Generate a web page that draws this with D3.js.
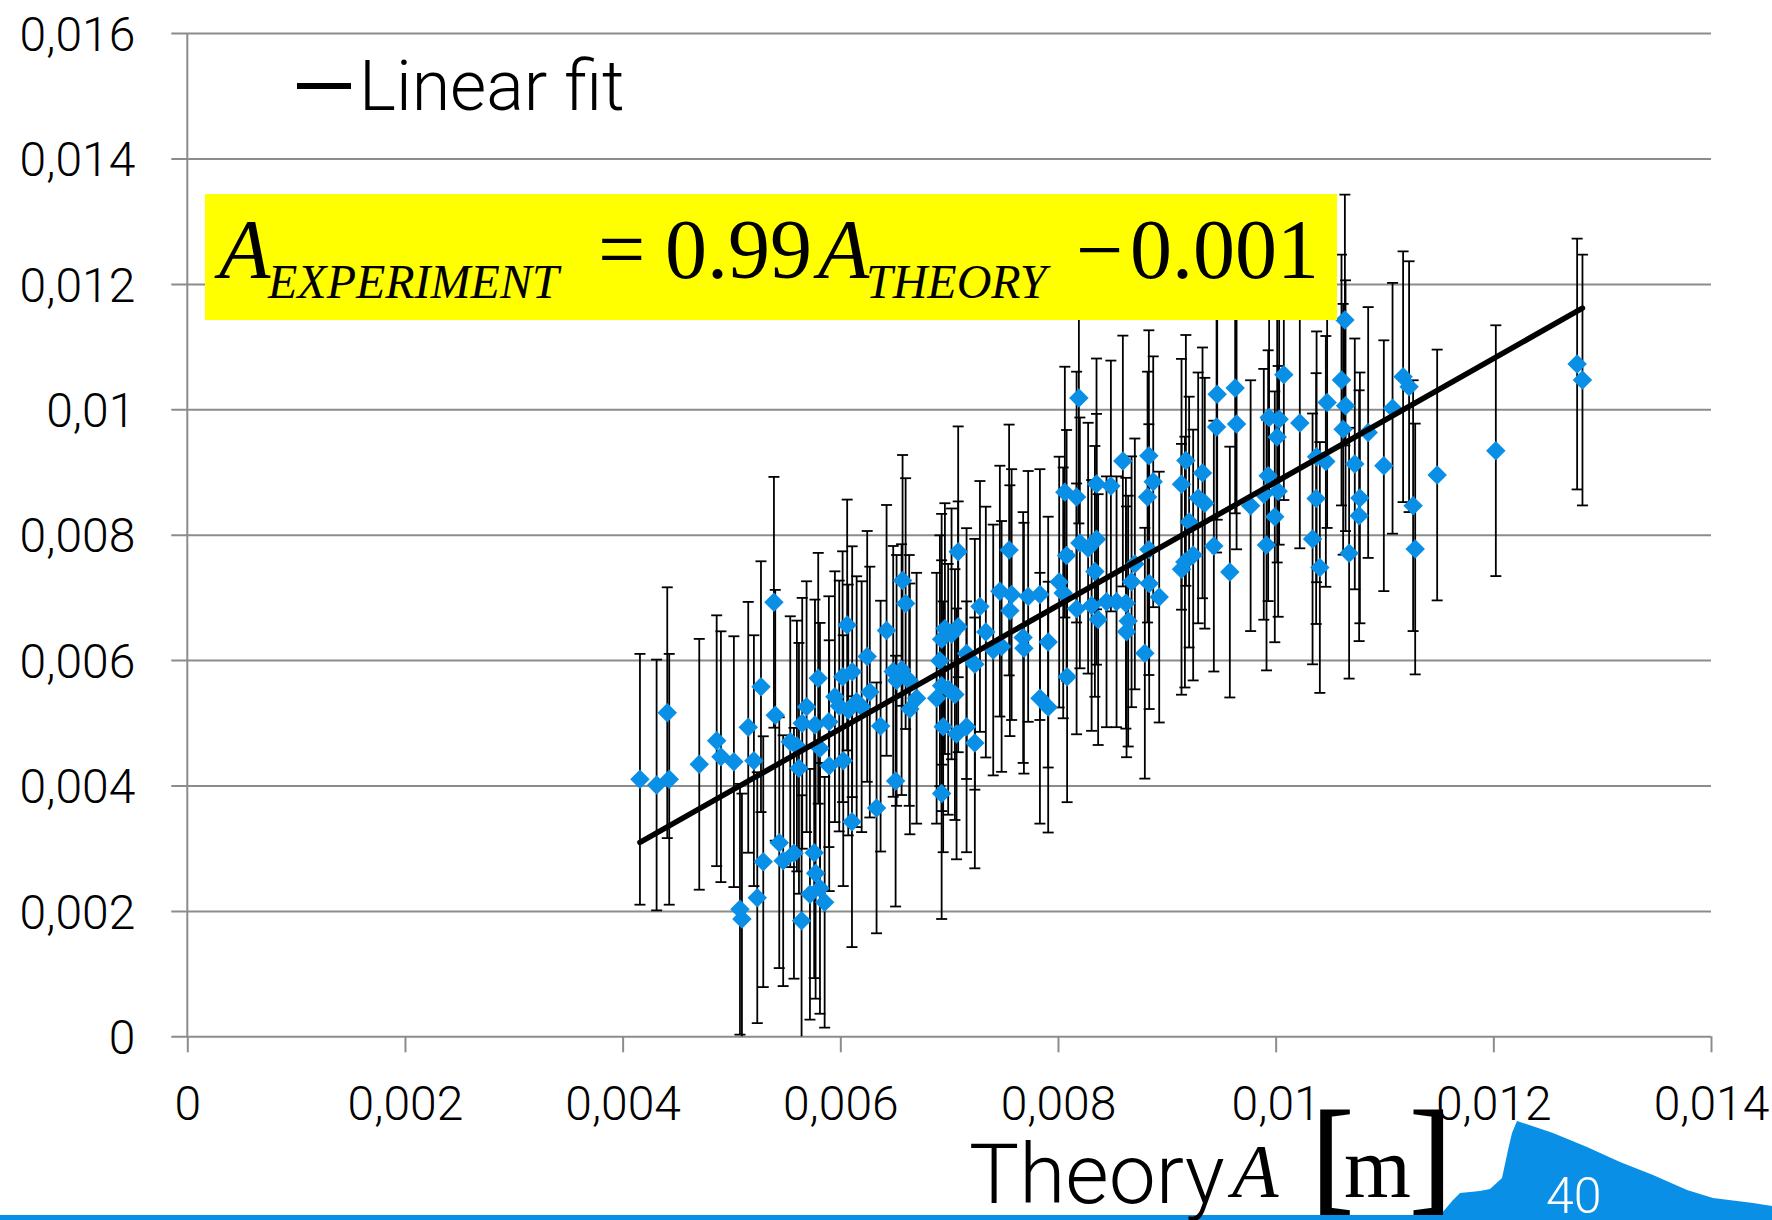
<!DOCTYPE html>
<html>
<head>
<meta charset="utf-8">
<script src="https://cdn.jsdelivr.net/npm/d3@7"></script>
<style>
  body { margin: 0; background: #fff; }
  svg { display: block; }
</style>
</head>
<body>
<div id="chart"></div>
<script>
// Theory amplitude A (m)
const theoryA = [
  0.004159, 0.004312, 0.004428, 0.004410, 0.004704, 0.004864, 0.004903, 0.005022, 0.005154, 0.005206,
  0.005271, 0.005390, 0.005402, 0.005078, 0.005096, 0.005237, 0.005292, 0.005439, 0.005475, 0.005574,
  0.005540, 0.005601, 0.005620, 0.005644, 0.005690, 0.005650, 0.005767, 0.005797, 0.005895, 0.005813,
  0.005898, 0.006027, 0.005760, 0.005773, 0.005813, 0.005721, 0.005856, 0.006107, 0.006063, 0.005950,
  0.006021, 0.006109, 0.005990, 0.006073, 0.006150, 0.006196, 0.006247, 0.006271, 0.006370, 0.006425,
  0.006333, 0.006508, 0.006572, 0.006600, 0.006486, 0.006517, 0.006563, 0.006633, 0.006701, 0.006639,
  0.006915, 0.006961, 0.006931, 0.007022, 0.007083, 0.007083, 0.006931, 0.006885, 0.006991, 0.007053,
  0.006945, 0.007068, 0.007160, 0.007236, 0.006931, 0.007160, 0.007236, 0.007283, 0.007337, 0.007405,
  0.007482, 0.007466, 0.007551, 0.007574, 0.007558, 0.007680, 0.007687, 0.007726, 0.007834, 0.007910,
  0.007834, 0.007910, 0.008011, 0.008048, 0.008079, 0.008084, 0.008171, 0.008063, 0.008171, 0.008192,
  0.008201, 0.008277, 0.008354, 0.008339, 0.008354, 0.008309, 0.008369, 0.008446, 0.008486, 0.008596,
  0.008835, 0.008875, 0.008823, 0.008706, 0.008676, 0.008538, 0.008624, 0.008645, 0.008630, 0.008798,
  0.008835, 0.008838, 0.008930, 0.009175, 0.009135, 0.009328, 0.009288, 0.009349, 0.009205, 0.009242,
  0.009166, 0.009135, 0.009463, 0.009457, 0.009432, 0.009628, 0.009641, 0.009579, 0.009770, 0.009940,
  0.010032, 0.010014, 0.010075, 0.009931, 0.009891, 0.010023, 0.009992, 0.009916, 0.010222, 0.010376,
  0.010461, 0.010372, 0.010339, 0.010406, 0.010473, 0.010636, 0.010605, 0.010642, 0.010620, 0.010727,
  0.010774, 0.010767, 0.010675, 0.010850, 0.010994, 0.011074, 0.011171, 0.011226, 0.011263, 0.011282,
  0.011484, 0.012023, 0.012770, 0.012819
];

// Experiment amplitude A (m), same order
const experimentA = [
  0.004099, 0.004008, 0.004099, 0.005161, 0.004338, 0.004714, 0.004459, 0.004380, 0.004928, 0.004396,
  0.005576, 0.006922, 0.005120, 0.002026, 0.001871, 0.002211, 0.002785, 0.003088, 0.002801, 0.002919,
  0.004699, 0.004630, 0.004274, 0.001844, 0.005257, 0.004992, 0.004965, 0.005710, 0.005018, 0.004593,
  0.004316, 0.004396, 0.002928, 0.002600, 0.002360, 0.002265, 0.002137, 0.003423, 0.006560, 0.005416,
  0.005735, 0.005815, 0.005268, 0.005204, 0.005337, 0.005257, 0.006059, 0.005490, 0.004947, 0.006474,
  0.003643, 0.004070, 0.007271, 0.006901, 0.005820, 0.005676, 0.005848, 0.005676, 0.005392, 0.005222,
  0.005990, 0.006502, 0.006332, 0.006418, 0.006531, 0.007727, 0.005592, 0.005392, 0.005534, 0.005450,
  0.004936, 0.004823, 0.004936, 0.004679, 0.003871, 0.006104, 0.005933, 0.006856, 0.006447, 0.006161,
  0.006218, 0.007100, 0.007756, 0.007045, 0.006788, 0.006360, 0.006190, 0.007016, 0.007045, 0.006287,
  0.005392, 0.005250, 0.007244, 0.007072, 0.007670, 0.005734, 0.006817, 0.008679, 0.008600, 0.010180,
  0.007869, 0.007785, 0.007927, 0.007415, 0.008810, 0.006872, 0.006646, 0.006930, 0.008777, 0.009175,
  0.009260, 0.008844, 0.008600, 0.007534, 0.007249, 0.006930, 0.006907, 0.006622, 0.006451, 0.006110,
  0.007762, 0.007220, 0.007005, 0.009185, 0.008804, 0.008986, 0.008587, 0.008502, 0.008201, 0.007676,
  0.007563, 0.007448, 0.010239, 0.009716, 0.007818, 0.010341, 0.009767, 0.007404, 0.008463, 0.009869,
  0.009841, 0.009557, 0.010553, 0.008941, 0.008644, 0.008691, 0.008285, 0.007836, 0.009783, 0.009242,
  0.009169, 0.008576, 0.007933, 0.007477, 0.010108, 0.011424, 0.010467, 0.010057, 0.009681, 0.009129,
  0.008587, 0.008303, 0.007705, 0.009630, 0.009100, 0.010016, 0.010520, 0.010361, 0.008463, 0.007772,
  0.008952, 0.009340, 0.010722, 0.010467
];

// every point carries the same +/- error
const errorHalf = 0.002;

// linear fit shown on the chart
const fitSlope = 0.984;
const fitIntercept = -0.001;

const xTicks = [0, 0.002, 0.004, 0.006, 0.008, 0.010, 0.012, 0.014];
const xTickLabels = ["0", "0,002", "0,004", "0,006", "0,008", "0,01", "0,012", "0,014"];
const yTicks = [0, 0.002, 0.004, 0.006, 0.008, 0.010, 0.012, 0.014, 0.016];
const yTickLabels = ["0", "0,002", "0,004", "0,006", "0,008", "0,01", "0,012", "0,014", "0,016"];

const W = 1772, H = 1220;
const plot = {left: 187.3, right: 1711, top: 33.1, bottom: 1036.3};
const grey = "#8c8c8c";
const blue = "#0a8fe6";
const sans = "Roboto, 'Open Sans', sans-serif";
const serif = "'Liberation Serif', 'Times New Roman', serif";

const svg = d3.select("#chart").append("svg")
    .attr("width", W)
    .attr("height", H);

svg.append("rect").attr("width", W).attr("height", H).attr("fill", "#fff");

const x = d3.scaleLinear().domain([0, 0.014]).range([plot.left, plot.right]);
const y = d3.scaleLinear().domain([0, 0.016]).range([plot.bottom, plot.top]);

// horizontal gridlines + y labels
const yAxis = svg.append("g")
    .attr("transform", `translate(${plot.left},0)`)
    .call(d3.axisLeft(y).tickValues(yTicks).tickFormat((d, i) => yTickLabels[i]).tickSize(16).tickPadding(36));
yAxis.select(".domain").remove();
yAxis.selectAll(".tick line").attr("x2", plot.right - plot.left).attr("x1", -16)
    .attr("stroke", grey).attr("stroke-width", 2);
yAxis.selectAll(".tick text")
    .attr("font-family", sans).attr("font-weight", 300).attr("font-size", 48).attr("fill", "#000")
    .attr("dy", "0.36em");

// vertical axis line
svg.append("line")
    .attr("x1", plot.left).attr("x2", plot.left)
    .attr("y1", plot.top).attr("y2", plot.bottom)
    .attr("stroke", grey).attr("stroke-width", 2);

// x ticks + labels
const xAxis = svg.append("g")
    .attr("transform", `translate(0,${plot.bottom})`)
    .call(d3.axisBottom(x).tickValues(xTicks).tickFormat((d, i) => xTickLabels[i]).tickSize(16));
xAxis.select(".domain").remove();
xAxis.selectAll(".tick line").attr("stroke", grey).attr("stroke-width", 2);
xAxis.selectAll(".tick text")
    .attr("font-family", sans).attr("font-weight", 300).attr("font-size", 48).attr("fill", "#000")
    .attr("y", 84).attr("dy", null);

// clip for the error bars
svg.append("clipPath").attr("id", "plotClip")
    .append("rect")
    .attr("x", plot.left).attr("y", plot.top)
    .attr("width", plot.right - plot.left).attr("height", plot.bottom - plot.top);

const points = theoryA.map((t, i) => ({t: t, e: experimentA[i]}));

// error bars
const bars = svg.append("g").attr("clip-path", "url(#plotClip)")
    .attr("stroke", "#000").attr("stroke-width", 1.8);
bars.selectAll("line.bar")
    .data(points)
    .enter().append("line")
    .attr("class", "bar")
    .attr("x1", d => x(d.t)).attr("x2", d => x(d.t))
    .attr("y1", d => y(d.e - errorHalf)).attr("y2", d => y(d.e + errorHalf));
bars.selectAll("line.capTop")
    .data(points)
    .enter().append("line")
    .attr("class", "capTop")
    .attr("x1", d => x(d.t) - 5.5).attr("x2", d => x(d.t) + 5.5)
    .attr("y1", d => y(d.e + errorHalf)).attr("y2", d => y(d.e + errorHalf));
bars.selectAll("line.capBot")
    .data(points)
    .enter().append("line")
    .attr("class", "capBot")
    .attr("x1", d => x(d.t) - 5.5).attr("x2", d => x(d.t) + 5.5)
    .attr("y1", d => y(d.e - errorHalf)).attr("y2", d => y(d.e - errorHalf));

// diamonds
svg.append("g").selectAll("path")
    .data(points)
    .enter().append("path")
    .attr("d", d3.symbol(d3.symbolSquare, 190))
    .attr("transform", d => `translate(${x(d.t)},${y(d.e)}) rotate(45)`)
    .attr("fill", blue);

// fit line over the data range
const fitX = d3.extent(theoryA);
svg.append("path")
    .datum(fitX)
    .attr("fill", "none")
    .attr("stroke", "#000")
    .attr("stroke-width", 5.5)
    .attr("stroke-linecap", "round")
    .attr("d", d3.line().x(d => x(d)).y(d => y(fitSlope * d + fitIntercept)));

// legend
svg.append("line")
    .attr("x1", 297).attr("x2", 351).attr("y1", 86).attr("y2", 86)
    .attr("stroke", "#000").attr("stroke-width", 6);
svg.append("text")
    .attr("x", 359).attr("y", 110)
    .attr("font-family", sans).attr("font-weight", 300).attr("font-size", 70)
    .text("Linear fit");

// equation box
svg.append("rect")
    .attr("x", 205).attr("y", 194).attr("width", 1132).attr("height", 126)
    .attr("fill", "#ffff00");
const eq = svg.append("g").attr("font-family", serif).attr("fill", "#000");
eq.append("text").attr("x", 219).attr("y", 278).attr("font-size", 84).attr("font-style", "italic").text("A");
eq.append("text").attr("x", 268).attr("y", 298).attr("font-size", 48).attr("font-style", "italic").text("EXPERIMENT");
eq.append("text").attr("x", 598).attr("y", 278).attr("font-size", 84).text("=");
eq.append("text").attr("x", 665).attr("y", 278).attr("font-size", 84).text("0.99");
eq.append("text").attr("x", 818).attr("y", 278).attr("font-size", 84).attr("font-style", "italic").text("A");
eq.append("text").attr("x", 866).attr("y", 298).attr("font-size", 48).attr("font-style", "italic").text("THEORY");
eq.append("text").attr("x", 1076).attr("y", 278).attr("font-size", 84).text("\u2212");
eq.append("text").attr("x", 1130).attr("y", 278).attr("font-size", 84).text("0.001");

// slide decoration at the bottom
svg.append("rect").attr("x", 0).attr("y", 1215).attr("width", W).attr("height", 5).attr("fill", blue);
const hill = [[1436, 1220], [1453, 1200], [1460, 1193], [1480, 1191], [1490, 1189], [1502, 1178],
  [1508, 1150], [1512, 1133], [1517, 1121], [1553, 1133], [1587, 1147], [1620, 1162], [1653, 1175],
  [1687, 1190], [1713, 1198], [1753, 1203], [1772, 1206], [1772, 1220]];
svg.append("path").attr("d", d3.line()(hill) + "Z").attr("fill", blue);
svg.append("text").attr("x", 1546).attr("y", 1213)
    .attr("font-family", sans).attr("font-weight", 300).attr("font-size", 50).attr("fill", "#fff")
    .text("40");

// x axis title
svg.append("text").attr("x", 969).attr("y", 1203)
    .attr("font-family", sans).attr("font-weight", 300).attr("font-size", 84).text("Theory");
svg.append("text").attr("x", 1232).attr("y", 1197)
    .attr("font-family", serif).attr("font-style", "italic").attr("font-size", 76).text("A");
svg.append("text").attr("x", 1312).attr("y", 1197)
    .attr("font-family", serif).attr("font-size", 124)
    .attr("stroke", "#000").attr("stroke-width", 2).text("[");
svg.append("text").attr("x", 1344).attr("y", 1197)
    .attr("font-family", serif).attr("font-size", 86).text("m");
svg.append("text").attr("x", 1410).attr("y", 1197)
    .attr("font-family", serif).attr("font-size", 124)
    .attr("stroke", "#000").attr("stroke-width", 2).text("]");
</script>
</body>
</html>
